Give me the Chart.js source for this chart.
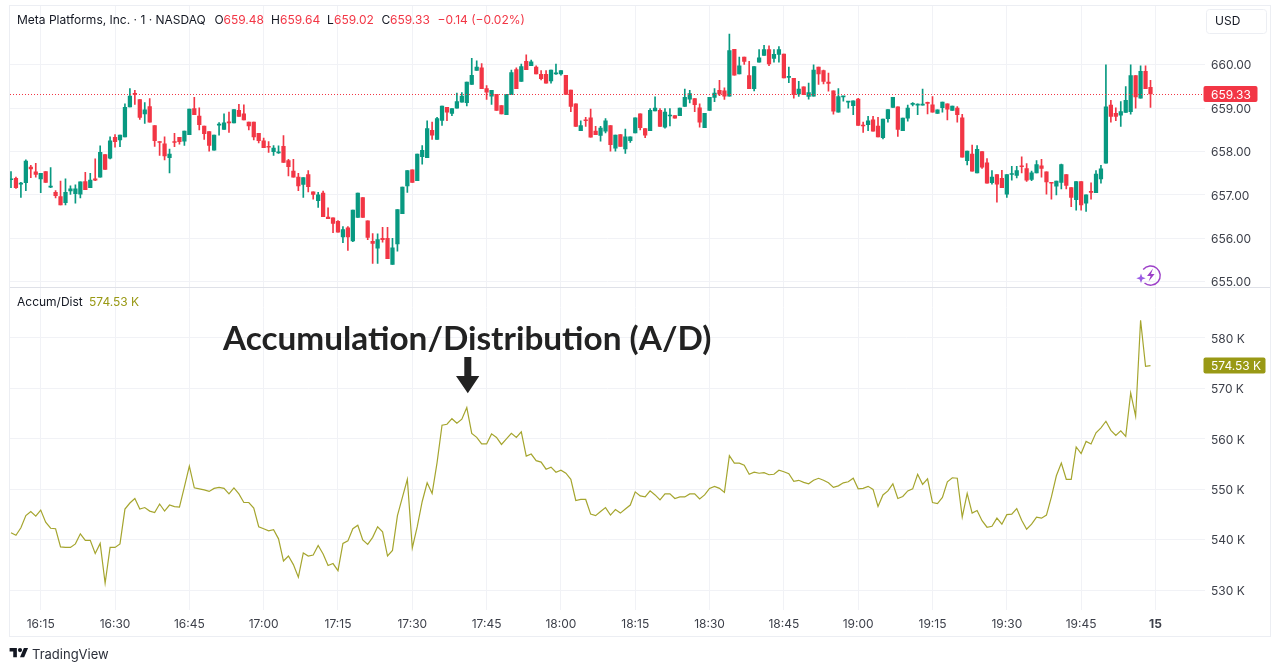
<!DOCTYPE html>
<html><head><meta charset="utf-8">
<style>
html,body{margin:0;padding:0;background:#fff;width:1280px;height:670px;overflow:hidden}
#wrap{position:relative;width:1280px;height:670px}
canvas{position:absolute;left:0;top:0}
.t{position:absolute;white-space:nowrap;font:12px/16px Inter,sans-serif;color:#131722}
.r{color:#f23645}.o{color:#999915}
svg{position:absolute;overflow:visible}
</style>
<script src="https://cdn.jsdelivr.net/npm/chart.js@4"></script>
</head><body><div id="wrap">
<canvas id="c" width="1280" height="670"></canvas>
<span class="t" style="left:17px;top:11.5px">Meta Platforms, Inc. · 1 · NASDAQ</span>
<span class="t" style="left:214.5px;top:11.5px">O</span><span class="t r" style="left:223.5px;top:11.5px">659.48</span>
<span class="t" style="left:271px;top:11.5px">H</span><span class="t r" style="left:280px;top:11.5px">659.64</span>
<span class="t" style="left:327px;top:11.5px">L</span><span class="t r" style="left:334px;top:11.5px">659.02</span>
<span class="t" style="left:381.5px;top:11.5px">C</span><span class="t r" style="left:390px;top:11.5px">659.33</span>
<span class="t r" style="left:437.5px;top:11.5px">−0.14 (−0.02%)</span>
<span class="t" style="left:1215px;top:13px">USD</span>
<span class="t" style="left:17px;top:294px">Accum/Dist</span>
<span class="t o" style="left:89px;top:294px">574.53 K</span>
<span class="t" style="left:223px;top:317px;font:700 33.35px/40px Lato,sans-serif;color:#222">Accumulation/Distribution (A/D)</span>
<span class="t" style="left:32px;top:646px;font-size:13px;color:#2a2e39">TradingView</span>
<svg style="left:0;top:0" width="1280" height="670">
  <polygon points="464.3,357 471.3,357 471.3,376 479.3,376 467.8,393.3 456,376 464.3,376" fill="#222"/>
  <g transform="translate(9.6,645.9) scale(0.52)" fill="#131722">
    <path d="M14 22H7V11H0V4h14v18zM28 22h-8l7.5-18h8L28 22z"/><circle cx="20" cy="8" r="4"/>
  </g>
  <g fill="none" stroke="#9c3fc8" stroke-width="1.4">
    <path d="M1143.2 269.5A9.6 9.6 0 1 1 1144.5 283"/>
  </g>
  <path d="M1153 268.5l-6 7.6h3.6l-2 5.4 6-7.6h-3.6z" fill="#9c3fc8"/>
  <path d="M1141 273.5l1.3 3.4 3.4 1.3-3.4 1.3-1.3 3.4-1.3-3.4-3.4-1.3 3.4-1.3z" fill="#9b5de5"/>
</svg>
</div>
<script>
const firstMinute = 969;
const tickMinutes = [975,990,1005,1020,1035,1050,1065,1080,1095,1110,1125,1140,1155,1170,1185,1200];
const tickLabels = ["16:15","16:30","16:45","17:00","17:15","17:30","17:45","18:00","18:15","18:30","18:45","19:00","19:15","19:30","19:45","15"];
const priceTicks = [655,656,657,658,659,660];
const adTicks = [530,540,550,560,570,580];
const lastPrice = 659.33;
const lastAD = 574.53;

const opens = [
657.35,657.38,657.25,657.28,657.64,657.53,657.37,657.54,657.18,657.06,
656.96,656.82,657.09,657.03,657.02,657.31,657.17,657.37,657.41,657.93,
657.85,658.33,658.27,658.34,659.03,659.34,659.20,658.87,659.04,658.60,
658.23,658.18,657.86,658.23,658.33,658.24,658.39,658.99,658.82,658.59,
658.46,658.03,658.61,658.51,658.68,658.66,658.95,658.87,658.68,658.68,
658.42,658.25,658.11,658.00,657.97,658.12,657.79,657.55,657.41,657.24,
657.47,657.07,656.87,657.04,656.49,656.47,656.39,656.03,656.24,655.94,
656.48,656.94,656.40,655.93,655.77,656.00,656.00,655.40,655.87,656.57,
657.21,657.58,657.33,657.88,657.86,658.49,658.28,658.72,659.02,658.88,
659.00,659.14,659.13,659.55,659.87,659.93,659.45,659.28,659.32,659.06,
658.85,659.31,659.89,659.62,660.08,659.98,659.95,659.78,659.78,659.63,
659.79,659.79,659.76,659.42,659.10,658.48,658.72,658.78,658.47,658.37,
658.47,658.60,658.08,658.39,658.06,658.25,658.43,658.87,658.53,658.48,
658.94,658.95,658.56,658.82,658.83,658.83,659.04,659.21,659.22,659.01,
658.55,658.95,659.25,659.41,659.40,659.28,660.36,659.79,660.18,659.75,
659.45,660.06,660.22,660.35,660.15,660.24,660.25,659.71,659.69,659.33,
659.49,659.27,659.28,659.95,659.87,659.60,659.40,658.91,659.26,659.14,
659.06,659.21,658.61,658.62,658.73,658.59,658.32,658.76,659.02,659.03,
658.48,658.77,659.09,659.07,659.07,659.13,659.08,658.88,659.01,659.10,
658.95,659.00,658.78,657.79,657.94,657.51,658.00,657.74,657.28,657.47,
657.38,657.02,657.47,657.45,657.67,657.61,657.36,657.51,657.67,657.53,
657.28,657.20,657.29,657.47,657.17,656.89,657.31,656.81,657.08,657.05,
657.37,657.73,659.07,658.88,658.84,658.90,658.92,659.75,659.23,659.85,
659.48];
const highs = [
657.54,657.41,657.29,657.81,657.68,657.73,657.50,657.54,657.63,657.10,
657.32,657.37,657.21,657.23,657.30,657.52,657.50,657.83,658.13,657.93,
658.34,658.39,658.38,659.10,659.45,659.41,659.20,659.13,659.22,658.60,
658.23,658.34,658.06,658.42,658.33,658.47,658.98,659.25,659.01,658.59,
658.46,658.38,658.67,658.87,658.91,658.97,659.09,659.08,658.68,658.68,
658.42,658.31,658.23,658.14,658.13,658.37,657.82,657.82,657.50,657.40,
657.56,657.07,657.06,657.09,656.70,656.47,656.41,656.27,656.27,656.65,
657.04,656.94,656.40,656.11,656.10,656.25,656.25,656.00,656.66,657.18,
657.56,657.58,657.94,658.14,658.71,658.68,658.79,659.05,659.02,658.99,
659.35,659.36,659.60,660.15,660.09,660.03,659.52,659.41,659.32,659.06,
659.32,659.88,659.93,660.02,660.23,660.11,659.98,659.87,659.87,659.88,
660.02,659.87,659.76,659.42,659.10,658.71,658.79,658.98,658.58,658.58,
658.76,658.60,658.38,658.39,658.52,658.34,658.78,658.87,658.53,658.99,
659.26,658.99,658.99,658.99,658.83,659.00,659.44,659.41,659.22,659.10,
658.88,659.25,659.45,659.64,659.47,660.71,660.36,660.18,660.18,660.08,
659.96,660.35,660.45,660.44,660.35,660.42,660.25,659.95,659.69,659.62,
659.49,659.58,660.00,659.95,659.88,659.81,659.40,659.45,659.27,659.16,
659.17,659.23,658.68,658.81,658.81,658.79,658.75,658.97,659.25,659.03,
658.77,659.07,659.13,659.10,659.44,659.14,659.27,658.96,659.14,659.10,
659.05,659.04,658.86,658.01,658.15,658.14,658.00,657.84,657.56,657.47,
657.57,657.47,657.66,657.66,657.88,657.72,657.55,657.79,657.82,657.53,
657.28,657.32,657.71,657.47,657.17,657.31,657.31,657.00,657.28,657.56,
657.68,660.00,659.18,659.01,659.15,659.50,660.00,659.75,659.98,659.98,
659.64];
const lows = [
657.17,657.15,656.94,657.10,657.40,657.41,657.05,657.29,657.17,656.93,
656.77,656.77,657.01,656.81,656.93,657.12,657.17,657.33,657.41,657.59,
657.83,658.10,658.11,658.34,659.03,659.09,658.74,658.65,658.68,658.12,
657.91,657.81,657.51,658.11,658.17,658.14,658.39,658.85,658.50,658.28,
658.01,658.03,658.38,658.51,658.44,658.66,658.81,658.73,658.50,658.27,
658.20,658.09,657.98,657.91,657.96,657.75,657.44,657.41,657.10,656.94,
657.07,656.90,656.71,656.50,656.45,656.13,656.14,655.90,655.72,655.92,
656.48,656.48,655.97,655.42,655.42,655.91,655.53,655.40,655.70,656.57,
657.06,657.29,657.33,657.71,657.86,658.28,658.28,658.60,658.71,658.83,
659.00,659.14,659.05,659.55,659.87,659.45,659.20,659.09,658.95,658.87,
658.85,659.31,659.45,659.62,659.89,659.98,659.79,659.65,659.58,659.58,
659.78,659.76,659.32,658.92,658.58,658.48,658.58,658.33,658.39,658.24,
658.43,658.01,658.01,658.12,657.96,658.21,658.43,658.50,658.32,658.48,
658.94,658.58,658.54,658.59,658.77,658.83,659.04,659.12,658.92,658.56,
658.55,658.95,659.15,659.29,659.20,659.28,659.76,659.79,660.01,659.45,
659.40,660.06,660.22,659.98,660.06,660.06,659.70,659.59,659.23,659.27,
659.31,659.21,659.28,659.55,659.56,659.39,658.86,658.91,659.16,659.00,
658.85,658.60,658.44,658.48,658.47,658.34,658.29,658.68,659.02,658.35,
658.48,658.70,659.05,658.85,659.07,658.87,658.91,658.88,658.91,658.73,
658.95,658.68,657.87,657.69,657.55,657.51,657.61,657.27,657.25,656.83,
657.17,656.94,657.34,657.39,657.51,657.31,657.33,657.51,657.41,657.02,
656.90,657.00,657.14,657.14,656.73,656.65,656.65,656.62,656.90,657.05,
657.27,657.73,658.68,658.71,658.58,658.90,658.86,659.00,659.23,659.45,
659.02];
const closes = [
657.36,657.17,657.26,657.78,657.60,657.47,657.50,657.29,657.19,656.98,
656.77,657.06,657.14,657.14,657.30,657.12,657.34,657.34,657.98,657.59,
658.25,658.23,658.38,659.02,659.28,659.32,658.79,658.96,658.68,658.25,
658.21,657.90,657.94,658.21,658.23,658.47,658.98,658.85,658.62,658.41,
658.14,658.38,658.62,658.66,658.66,658.97,658.81,658.73,658.59,658.34,
658.25,658.09,658.10,658.08,657.98,657.75,657.65,657.41,657.21,657.40,
657.19,657.01,657.00,656.50,656.45,656.34,656.14,656.20,656.03,656.65,
657.04,656.48,656.02,655.88,655.97,655.97,655.53,655.78,656.66,657.18,
657.56,657.29,657.94,658.03,658.53,658.38,658.76,659.05,658.91,658.99,
659.15,659.28,659.60,659.76,659.95,659.45,659.37,659.41,658.95,658.87,
659.32,659.82,659.45,659.96,659.89,660.07,659.79,659.68,659.58,659.88,
659.80,659.87,659.32,659.04,658.58,658.60,658.71,658.33,658.39,658.54,
658.71,658.16,658.38,658.12,658.34,658.34,658.78,658.55,658.38,658.95,
659.00,658.58,658.91,658.83,658.77,659.00,659.25,659.34,659.08,658.68,
658.88,659.25,659.35,659.33,659.28,660.33,659.76,659.98,660.08,659.45,
659.96,660.16,660.35,660.02,660.24,660.35,659.70,659.72,659.31,659.44,
659.31,659.36,659.88,659.79,659.62,659.57,658.93,659.27,659.27,659.15,
659.17,658.60,658.59,658.71,658.47,658.34,658.75,658.97,659.25,658.51,
658.77,659.00,659.10,659.08,659.08,659.11,658.91,658.96,659.14,658.98,
659.05,658.85,657.87,658.01,657.55,658.05,657.64,657.27,657.41,657.25,
657.17,657.47,657.49,657.56,657.65,657.34,657.51,657.70,657.61,657.30,
657.27,657.32,657.70,657.22,656.94,657.31,656.77,657.00,657.06,657.48,
657.60,659.03,658.81,658.81,658.92,659.18,659.75,659.26,659.85,659.45,
659.33];
const accumDist = [
541.4,540.9,542.4,544.8,545.6,544.7,545.9,543.5,542.3,542.2,
538.6,538.5,538.5,539.2,541.2,539.9,539.9,537.3,539.3,531.4,
538.5,538.5,539.2,546.1,547.3,548.2,546.1,546.4,545.7,545.4,
547.1,545.7,546.9,546.6,546.5,550.5,554.6,550.3,550.1,549.9,
549.6,550.2,550.4,550.2,549.1,550.3,549.1,547.4,547.4,546.3,
542.6,542.2,541.8,542.0,540.2,535.8,536.8,535.1,532.6,537.4,
536.8,537.0,538.9,537.2,534.9,535.3,533.9,539.3,539.8,542.2,
542.9,540.0,539.1,540.5,542.6,541.6,536.8,537.9,544.8,548.4,
552.0,538.4,542.6,547.6,551.3,549.2,555.3,562.7,562.9,564.0,
563.1,563.9,566.2,561.1,560.3,559.0,559.0,561.0,560.3,558.9,
560.0,561.1,560.3,561.4,556.6,557.0,555.7,555.4,554.0,554.4,
553.4,553.8,553.2,552.0,547.8,548.0,548.0,545.1,544.8,545.6,
546.4,544.9,546.0,545.3,546.1,546.9,549.5,548.7,548.5,549.7,
548.9,547.9,549.1,549.1,548.2,548.5,548.5,549.1,549.1,548.1,
548.9,550.2,550.6,550.2,549.4,556.7,555.2,555.2,554.8,553.0,
553.4,553.2,553.3,552.9,553.0,553.8,553.5,553.1,551.6,551.8,
551.4,551.1,551.8,552.2,551.8,551.3,550.4,550.7,551.3,551.5,
552.2,550.1,550.2,550.6,550.0,546.6,548.9,549.7,551.1,548.2,
548.6,549.7,550.1,553.0,551.0,552.1,547.4,547.2,548.4,551.5,
552.3,552.2,544.5,549.2,545.3,545.8,543.8,542.5,542.7,544.3,
543.1,545.0,545.1,546.2,543.9,542.1,543.1,544.5,544.3,544.9,
548.5,552.7,555.2,552.0,552.0,558.4,557.1,559.5,559.0,561.2,
562.2,563.5,561.7,560.7,561.6,560.5,569.1,564.5,583.5,574.4,
574.53];

const GREEN = '#089981', RED = '#f23645', OLIVE = '#999915', LINE = '#a5a52e';
const GRID = '#f1f2f6', FRAME = '#eceef3', SEP = '#dfe1e8', TEXT = '#3c3f49';
const xOf = i => firstMinute + i;
const upColor = opens.map((o, i) => closes[i] >= o ? GREEN : RED);
const axisFont = {family: 'Inter, sans-serif', size: 12};
const noPad = s => { s.paddingTop = 0; s.paddingBottom = 0; s.paddingLeft = 0; s.paddingRight = 0; };

const overlay = {
  id: 'overlay',
  afterDraw(chart) {
    const {ctx, chartArea: a, scales} = chart;
    ctx.save();
    ctx.strokeStyle = FRAME; ctx.lineWidth = 1;
    ctx.strokeRect(9.5, 5.5, 1261, 631);
    ctx.strokeStyle = SEP;
    ctx.beginPath(); ctx.moveTo(10, 287.5); ctx.lineTo(1270, 287.5); ctx.stroke();
    ctx.strokeStyle = FRAME; ctx.beginPath(); ctx.roundRect(1206.5, 9.5, 60, 24, 3); ctx.stroke();
    const py = scales.yPrice.getPixelForValue(lastPrice);
    ctx.strokeStyle = RED; ctx.setLineDash([1, 2]);
    ctx.beginPath(); ctx.moveTo(a.left, Math.round(py) + .5); ctx.lineTo(a.right, Math.round(py) + .5); ctx.stroke();
    ctx.setLineDash([]);
    ctx.font = axisFont.size + 'px Inter, sans-serif'; ctx.textBaseline = 'middle'; ctx.textAlign = 'left';
    ctx.fillStyle = RED; ctx.beginPath(); ctx.roundRect(1203.5, py - 8, 54, 16, 2); ctx.fill();
    ctx.fillStyle = '#fff'; ctx.fillText(lastPrice.toFixed(2), 1211, py + 1);
    const ay = scales.yAD.getPixelForValue(lastAD);
    ctx.fillStyle = OLIVE; ctx.beginPath(); ctx.roundRect(1203.5, ay - 8, 62, 16, 2); ctx.fill();
    ctx.fillStyle = '#fff'; ctx.fillText(lastAD.toFixed(2) + ' K', 1211, ay + 1);
    ctx.restore();
  }
};

new Chart(document.getElementById('c'), {
  type: 'bar',
  plugins: [overlay],
  data: {
    datasets: [
      {
        label: 'Wick', yAxisID: 'yPrice', grouped: false, barThickness: 1,
        data: lows.map((l, i) => ({x: xOf(i), y: [l, highs[i]]})),
        backgroundColor: upColor, borderWidth: 0, order: 2
      },
      {
        label: 'Body', yAxisID: 'yPrice', grouped: false, barThickness: 3.6, minBarLength: 1,
        data: opens.map((o, i) => ({x: xOf(i), y: [o, closes[i]]})),
        backgroundColor: upColor, borderWidth: 0, order: 1
      },
      {
        type: 'line', label: 'Accum/Dist', yAxisID: 'yAD',
        data: accumDist.map((v, i) => ({x: xOf(i), y: v})),
        borderColor: LINE, borderWidth: 1.2, pointRadius: 0, tension: 0, order: 0
      }
    ]
  },
  options: {
    responsive: false, animation: false, devicePixelRatio: 1,
    layout: {padding: {left: 10, right: 10, top: 5, bottom: 34}},
    plugins: {legend: {display: false}, tooltip: {enabled: false}},
    scales: {
      x: {
        type: 'linear', min: 968.8, max: 1210, offset: false,
        grid: {color: GRID, drawTicks: false, offset: false},
        border: {display: false},
        afterBuildTicks: s => { s.ticks = tickMinutes.map(v => ({value: v})); },
        afterFit: s => { s.height = 26; noPad(s); },
        ticks: {
          autoSkip: false, maxRotation: 0, padding: 7, color: TEXT,
          font: c => ({family: 'Inter, sans-serif', size: 12, weight: c.tick && c.tick.value === 1200 ? '700' : '400'}),
          callback: v => tickLabels[tickMinutes.indexOf(v)]
        }
      },
      yPrice: {
        type: 'linear', position: 'right', stack: 'panes', stackWeight: 282.5,
        min: 654.865, max: 661.38,
        grid: {color: GRID, drawTicks: false}, border: {display: false},
        afterBuildTicks: s => { s.ticks = priceTicks.map(v => ({value: v})); },
        afterFit: s => { s.width = 65; noPad(s); },
        ticks: {padding: 6, labelOffset: 1, color: TEXT, font: axisFont, callback: v => v.toFixed(2)}
      },
      yAD: {
        type: 'linear', position: 'right', stack: 'panes', stackWeight: 322.5,
        min: 526.1, max: 590,
        grid: {color: GRID, drawTicks: false}, border: {display: false},
        afterBuildTicks: s => { s.ticks = adTicks.map(v => ({value: v})); },
        afterFit: s => { s.width = 65; noPad(s); },
        ticks: {padding: 6, labelOffset: 1, color: TEXT, font: axisFont, callback: v => v + ' K'}
      }
    }
  }
});
</script>
</body></html>
